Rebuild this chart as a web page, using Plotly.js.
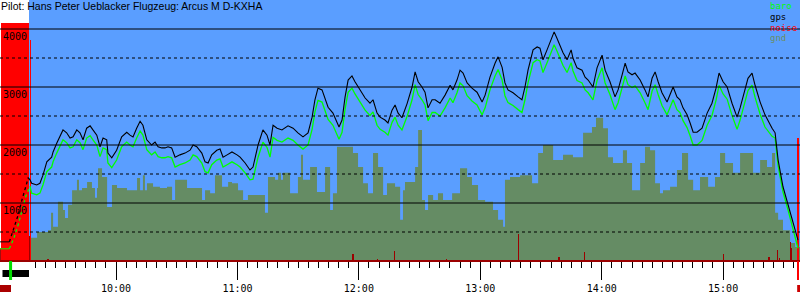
<!DOCTYPE html>
<html>
<head>
<meta charset="utf-8">
<script src="https://cdn.plot.ly/plotly-3.0.1.min.js"></script>
<style>
  html, body { margin: 0; padding: 0; background: #fff; }
  #chart { width: 800px; height: 300px; }
</style>
</head>
<body>
<div id="chart"></div>
<script>
// ---- time axis: minutes after midnight ----
const hourTicks = [600, 660, 720, 780, 840, 900];
const hourLabels = ["10:00", "11:00", "12:00", "13:00", "14:00", "15:00"];
const halfHourTicks = [570, 630, 690, 750, 810, 870, 930];

// ---- altitude axis ----
const altTicks = [1000, 2000, 3000, 4000];
const altLabels = ["1000", "2000", "3000", "4000"];
const gridLevels = [500, 1000, 1500, 2000, 2500, 3000, 3500, 4000];

const titleText = "Pilot: Hans Peter Ueblacker Flugzeug: Arcus M D-KXHA";
const legendNames = ["baro", "gps", "noise", "gnd"];

// ---- on the ground / engine climb ----
const groundTime = [542.7, 547.3];
const gpsGroundAlt = [330, 330];
const baroGroundAlt = [210, 210];
const gpsTowTime = [547.3, 549.6, 551.6, 553.5, 555.5, 556.6, 557.5];
const gpsTowAlt = [330, 570, 790, 1050, 1290, 1430, 1400];
const baroTowTime = [547.3, 549.6, 551.6, 553.5, 555.5, 557.5];
const baroTowAlt = [210, 400, 620, 860, 1120, 1290];

// ---- flight ----
const flightTime = [557.5, 558.3, 560.8, 562.4, 563.9, 565.8, 568.2, 568.9, 570.7, 573.8,
  575.6, 577.3, 578.8, 580.6, 582.2, 583.7, 585.5, 587.2, 588.6, 590.5,
  592.1, 593.6, 595.4, 596.0, 597.9, 600.3, 602.8, 605.3, 606.9, 608.4,
  610.2, 611.9, 613.3, 615.2, 617.6, 619.3, 620.8, 622.6, 624.2, 625.7,
  627.5, 629.2, 631.6, 634.1, 636.6, 638.1, 639.9, 642.4, 644.0, 645.5,
  647.3, 649.8, 651.4, 652.9, 654.9, 657.3, 659.8, 661.3, 663.8, 666.2,
  667.7, 670.2, 672.6, 674.6, 676.1, 677.6, 679.6, 682.0, 685.0, 687.5,
  689.9, 692.4, 694.9, 696.9, 698.3, 699.8, 701.8, 703.3, 704.8, 707.2,
  709.2, 710.2, 711.7, 713.2, 714.7, 716.6, 718.1, 719.6, 721.6, 723.1,
  725.5, 727.0, 729.0, 730.5, 732.9, 734.4, 736.4, 737.9, 739.4, 741.3,
  743.8, 746.3, 747.8, 749.3, 751.2, 752.7, 754.2, 756.2, 757.7, 760.1,
  762.6, 765.1, 766.5, 768.5, 770.0, 771.5, 773.5, 775.9, 778.4, 780.9,
  782.4, 784.8, 787.3, 788.8, 790.8, 792.2, 793.7, 796.2, 798.7, 800.6,
  802.1, 803.6, 806.1, 808.1, 809.5, 811.0, 813.0, 814.5, 816.5, 817.9,
  819.4, 820.9, 822.9, 824.9, 825.8, 827.8, 830.3, 831.8, 833.3, 835.7,
  837.7, 840.2, 841.7, 844.1, 846.6, 848.1, 850.1, 851.6, 853.0, 855.0,
  856.5, 859.0, 861.4, 862.9, 864.9, 866.4, 867.9, 869.8, 872.3, 873.8,
  875.3, 877.2, 878.7, 880.2, 882.2, 883.7, 885.2, 887.1, 889.6, 892.1,
  894.5, 896.5, 898.0, 900.0, 902.0, 904.4, 906.9, 908.4, 910.9, 912.3,
  914.3, 915.8, 918.3, 920.7, 924.2, 925.7, 927.2, 929.6, 932.1, 934.1,
  935.6, 937.0];

const gpsAlt = [1400, 1340, 1310, 1340, 1480, 1710, 1790, 1880, 2030, 2260,
  2210, 2120, 2140, 2260, 2210, 2090, 2290, 2330, 2260, 2170,
  1970, 2120, 2090, 1860, 1780, 1910, 2140, 2220, 2170, 2140,
  2290, 2410, 2340, 2090, 2000, 2050, 1970, 1950, 1950, 1970,
  1950, 1790, 1830, 1860, 1910, 2000, 1970, 1860, 1710, 1690,
  1830, 1910, 1930, 1790, 1830, 1880, 1830, 1790, 1690, 1570,
  1620, 2000, 2260, 2170, 2000, 2340, 2290, 2260, 2330, 2290,
  2210, 2140, 2210, 2480, 2780, 2980, 2950, 2780, 2650, 2550,
  2380, 2310, 2430, 2830, 3120, 3190, 3090, 3000, 2900, 2810,
  2720, 2780, 2550, 2480, 2430, 2380, 2600, 2690, 2550, 2470,
  2710, 3000, 3260, 3090, 3000, 2910, 2640, 2780, 2780, 2720,
  2860, 3030, 2950, 3120, 3290, 3240, 3070, 2980, 2910, 2740,
  2860, 3170, 3410, 3520, 3340, 3070, 2950, 2900, 2830, 2780,
  3000, 3290, 3640, 3690, 3670, 3470, 3640, 3760, 3950, 3840,
  3720, 3590, 3470, 3640, 3500, 3330, 3290, 3170, 3120, 3000,
  3330, 3550, 3290, 3090, 2830, 2950, 3210, 3410, 3260, 3210,
  3240, 3120, 2950, 2830, 3150, 3260, 3090, 2900, 2740, 2860,
  3000, 2830, 2780, 2640, 2520, 2380, 2220, 2220, 2290, 2550,
  2720, 2980, 3240, 3090, 3000, 2720, 2480, 2640, 2950, 3150,
  3240, 3030, 2740, 2520, 2290, 2210, 1740, 1280, 970, 710,
  530, 360];

const baroAlt = [1290, 1170, 1140, 1170, 1310, 1540, 1620, 1710, 1860, 2090,
  2040, 1950, 1970, 2090, 2040, 1920, 2120, 2160, 2090, 2000,
  1800, 1950, 1920, 1690, 1610, 1740, 1970, 2050, 2000, 1970,
  2120, 2240, 2170, 1920, 1830, 1880, 1800, 1780, 1780, 1800,
  1780, 1620, 1660, 1690, 1740, 1830, 1800, 1690, 1540, 1520,
  1660, 1740, 1760, 1620, 1660, 1710, 1660, 1620, 1520, 1400,
  1410, 1790, 2050, 1960, 1790, 2130, 2080, 2050, 2120, 2080,
  2000, 1930, 2000, 2270, 2570, 2770, 2740, 2570, 2440, 2340,
  2170, 2100, 2220, 2620, 2910, 2980, 2880, 2790, 2690, 2600,
  2510, 2570, 2340, 2270, 2220, 2170, 2390, 2480, 2340, 2260,
  2490, 2780, 3040, 2870, 2780, 2690, 2420, 2560, 2560, 2500,
  2640, 2810, 2730, 2900, 3070, 3020, 2850, 2760, 2690, 2520,
  2640, 2950, 3190, 3300, 3120, 2850, 2730, 2680, 2610, 2560,
  2780, 3070, 3420, 3470, 3450, 3250, 3420, 3540, 3730, 3620,
  3500, 3370, 3250, 3420, 3280, 3110, 3070, 2950, 2900, 2780,
  3110, 3330, 3070, 2870, 2610, 2730, 2990, 3190, 3040, 2990,
  3020, 2900, 2730, 2610, 2930, 3040, 2870, 2680, 2520, 2640,
  2780, 2610, 2560, 2420, 2300, 2160, 2000, 2000, 2080, 2340,
  2510, 2770, 3030, 2880, 2790, 2510, 2270, 2430, 2740, 2940,
  3030, 2820, 2530, 2310, 2150, 2120, 1640, 1190, 880, 620,
  440, 220];

// ---- ground elevation ----
const gndEngineTime = [542.7, 546.6, 547.6, 550.1, 551.1, 552.6, 554.0, 557.9];
const gndEngineAlt = [220, 280, 360, 450, 500, 450, 430, 400];
const gndTime = [557.9, 561.0, 566.4, 567.9, 568.9, 571.3, 573.8, 574.8, 576.3, 578.3,
  580.7, 581.7, 583.2, 585.7, 588.1, 589.6, 590.6, 591.1, 593.1, 595.6,
  598.0, 600.5, 605.4, 610.4, 611.9, 613.3, 614.3, 615.3, 618.3, 621.7,
  625.2, 627.7, 629.2, 635.1, 642.5, 644.0, 646.5, 648.9, 652.4, 655.4,
  657.3, 660.3, 662.8, 665.2, 673.6, 675.1, 678.6, 680.1, 681.5, 682.5,
  686.0, 689.9, 691.4, 692.4, 695.9, 699.3, 703.3, 705.8, 707.2, 709.2,
  717.1, 719.6, 722.1, 724.5, 727.0, 729.5, 732.0, 733.9, 737.9, 740.4,
  741.8, 742.8, 747.8, 749.3, 751.2, 752.7, 754.2, 756.7, 759.1, 761.6,
  766.1, 770.0, 773.5, 775.9, 778.9, 782.4, 786.3, 788.8, 791.3, 792.2,
  794.7, 799.7, 805.6, 808.6, 811.0, 816.0, 820.9, 825.8, 830.8, 835.2,
  837.2, 840.7, 843.1, 845.6, 850.5, 852.5, 855.0, 859.0, 861.4, 863.9,
  866.4, 868.8, 870.3, 873.8, 877.2, 879.7, 882.7, 885.2, 888.6, 892.6,
  896.0, 898.5, 901.0, 904.9, 908.4, 914.8, 918.3, 921.7, 924.2, 925.7,
  927.2, 929.6, 933.1, 935.6, 938.0];
const gndAlt = [400, 500, 530, 830, 590, 1020, 880, 740, 970, 1220,
  1400, 1220, 1260, 1360, 1260, 1090, 1260, 1600, 1450, 930,
  1310, 1260, 1220, 1430, 1220, 1480, 1220, 1340, 1280, 1260,
  1280, 1050, 1400, 1260, 1050, 1220, 1170, 1480, 1280, 1360,
  1340, 1220, 1050, 1140, 830, 1450, 1400, 1520, 1400, 1520,
  1170, 1450, 1830, 1400, 1620, 1190, 1620, 880, 1170, 1970,
  1860, 1620, 1340, 1170, 1860, 1620, 1140, 1340, 1280, 710,
  1220, 1360, 1620, 2260, 1050, 880, 1140, 1050, 1170, 1050,
  1170, 1600, 1450, 1310, 1050, 1020, 880, 710, 590, 1400,
  1450, 1480, 1340, 1860, 2000, 1740, 1830, 1790, 2210, 2310,
  2470, 2290, 1790, 1690, 1910, 1690, 1220, 1690, 1970, 1910,
  1340, 1170, 1220, 1280, 1570, 1860, 1400, 1220, 1450, 1280,
  1450, 1860, 1690, 1520, 1860, 1520, 1740, 1620, 1860, 830,
  710, 530, 310, 240, 240];

// ---- noise level (0..1000) ----
const noiseTime = [543.5, 544.0, 544.5, 545.0, 545.5, 546.0, 546.5, 547.0, 547.5, 548.0,
  548.5, 549.0, 549.5, 550.0, 550.5, 551.0, 551.5, 552.0, 552.5, 553.0,
  553.5, 554.0, 554.5, 555.0, 555.5, 556.0, 556.5,
  557.6, 566.4, 717.1, 729.0, 737.4, 763.1, 798.7, 815.5, 818.9, 831.3,
  851.1, 863.9, 900.0, 922.7, 926.7, 927.7, 933.1, 933.6, 937.0];
const noiseLevel = [1000, 1000, 1000, 1000, 1000, 1000, 1000, 1000, 1000, 1000,
  1000, 1000, 1000, 1000, 1000, 1000, 1000, 1000, 1000, 1000,
  1000, 1000, 1000, 1000, 1000, 1000, 1000,
  930, 8, 30, 8, 42, 8, 113, 6, 17, 38,
  6, 6, 30, 17, 46, 12, 80, 55, 517];

// ---- styling ----
const BLUE = '#5a9eff';
const GND = '#658c64';
const DARKRED = '#9c0000';
const RANGE_X = [542.67, 938.0];
const RANGE_Y = [0, 4500];
const MONO = 'DejaVu Sans Mono';

const traces = [
  { x: gndEngineTime, y: gndEngineAlt, type: 'scatter', mode: 'lines', line: { shape: 'hv', width: 0, color: DARKRED },
    fill: 'tozeroy', fillcolor: DARKRED, xaxis: 'x', yaxis: 'y', hoverinfo: 'skip' },
  { x: gndTime, y: gndAlt, type: 'scatter', mode: 'lines', line: { shape: 'hv', width: 0, color: GND },
    fill: 'tozeroy', fillcolor: GND, xaxis: 'x', yaxis: 'y', hoverinfo: 'skip' },
  { x: noiseTime, y: noiseLevel, type: 'bar', width: 0.55,
    marker: { color: noiseLevel.map(v => v >= 500 ? '#ff0000' : DARKRED), line: { width: 0 } },
    xaxis: 'x', yaxis: 'y2', hoverinfo: 'skip' },
  { x: groundTime, y: baroGroundAlt, type: 'scatter', mode: 'lines', line: { color: '#00ff00', width: 1 }, xaxis: 'x', yaxis: 'y3' },
  { x: baroTowTime, y: baroTowAlt, type: 'scatter', mode: 'lines', line: { color: '#00ff00', width: 1.3, dash: 'dot' }, xaxis: 'x', yaxis: 'y3' },
  { x: flightTime, y: baroAlt, type: 'scatter', mode: 'lines', line: { color: '#00ff00', width: 1.3 }, xaxis: 'x', yaxis: 'y3' },
  { x: groundTime, y: gpsGroundAlt, type: 'scatter', mode: 'lines', line: { color: '#000000', width: 1 }, xaxis: 'x', yaxis: 'y3' },
  { x: gpsTowTime, y: gpsTowAlt, type: 'scatter', mode: 'lines', line: { color: '#000000', width: 1.3, dash: 'dot' }, xaxis: 'x', yaxis: 'y3' },
  { x: flightTime, y: gpsAlt, type: 'scatter', mode: 'lines', line: { color: '#000000', width: 1.1 }, xaxis: 'x', yaxis: 'y3' }
];

const shapes = [];
// plot background (blue from release onward)
shapes.push({ type: 'rect', xref: 'x', yref: 'paper', x0: 557.0, x1: RANGE_X[1], y0: 0, y1: 1,
  fillcolor: BLUE, line: { width: 0 }, layer: 'below' });
// grid lines above everything
gridLevels.forEach(v => {
  shapes.push({ type: 'line', xref: 'paper', yref: 'y', x0: 0, x1: 1, y0: v, y1: v,
    line: { color: '#000', width: 1, dash: (v % 1000 === 0) ? 'solid' : '3px,3px' }, layer: 'above' });
});
// bottom baseline
shapes.push({ type: 'line', xref: 'paper', yref: 'paper', x0: 0, x1: 1, y0: 0, y1: 0,
  line: { color: DARKRED, width: 2 }, layer: 'above' });
// event markers under the time axis
const py = p => (261 - p) / 261;
shapes.push({ type: 'rect', xref: 'x', yref: 'paper', x0: 543.9, x1: 557.0, y0: py(277), y1: py(270),
  fillcolor: '#000', line: { width: 0 } });
shapes.push({ type: 'line', xref: 'x', yref: 'paper', x0: 547.9, x1: 547.9, y0: py(261), y1: py(280),
  line: { color: '#00dd00', width: 3 } });
shapes.push({ type: 'rect', xref: 'x', yref: 'paper', x0: 542.67, x1: 548.1, y0: py(292), y1: py(285),
  fillcolor: '#aa0000', line: { width: 0 } });
shapes.push({ type: 'line', xref: 'x', yref: 'paper', x0: 937.0, x1: 937.0, y0: py(261), y1: py(280),
  line: { color: '#ff0000', width: 2 } });
shapes.push({ type: 'rect', xref: 'x', yref: 'paper', x0: 936.6, x1: 938.0, y0: py(292), y1: py(285),
  fillcolor: '#cc0000', line: { width: 0 } });

const legendColors = ['#00ff00', '#000000', '#ff0000', '#6a8e68'];
const annotations = [
  { text: titleText, xref: 'paper', yref: 'paper', x: 0, y: py(6), xanchor: 'left', yanchor: 'middle',
    showarrow: false, borderpad: 0, font: { family: 'Liberation Sans', size: 10.5, color: '#000' } }
];
legendNames.forEach((n, i) => {
  annotations.push({ text: n, xref: 'paper', yref: 'paper', x: 769 / 800, y: py(6.5 + i * 10.5),
    xanchor: 'left', yanchor: 'middle', showarrow: false, borderpad: 0,
    font: { family: MONO, size: 9, color: legendColors[i] } });
});

const layout = {
  width: 800, height: 300,
  margin: { l: 0, r: 0, t: 0, b: 39, pad: 0 },
  paper_bgcolor: '#ffffff', plot_bgcolor: '#ffffff',
  showlegend: false,
  bargap: 0,
  xaxis: {
    range: RANGE_X, tickmode: 'array', tickvals: hourTicks, ticktext: hourLabels,
    ticks: 'outside', ticklen: 18, tickwidth: 1, tickcolor: '#000',
    tickfont: { family: MONO, size: 10, color: '#000' },
    showgrid: false, zeroline: false, showline: false, fixedrange: true,
    minor: { tickmode: 'linear', tick0: 0, dtick: 5, ticks: 'outside', ticklen: 6, tickwidth: 1, tickcolor: '#000', showgrid: false }
  },
  xaxis2: {
    overlaying: 'x', anchor: 'y', side: 'bottom', range: RANGE_X,
    tickmode: 'array', tickvals: halfHourTicks, ticks: 'outside', ticklen: 12, tickwidth: 1, tickcolor: '#000',
    showticklabels: false, showgrid: false, zeroline: false, showline: false, fixedrange: true
  },
  yaxis: {
    range: RANGE_Y, tickmode: 'array', tickvals: altTicks, ticktext: altLabels,
    ticks: '', ticklabelposition: 'inside', ticklabelshift: 7, ticklabelstandoff: 0,
    tickfont: { family: MONO, size: 10, color: '#000' },
    showgrid: false, zeroline: false, showline: false, layer: 'above traces', fixedrange: true
  },
  yaxis2: { overlaying: 'y', range: [0, 1097], visible: false, fixedrange: true },
  yaxis3: { overlaying: 'y', range: RANGE_Y, visible: false, fixedrange: true },
  shapes: shapes,
  annotations: annotations
};

Plotly.newPlot('chart', traces, layout, { staticPlot: true, displayModeBar: false });
</script>
</body>
</html>
